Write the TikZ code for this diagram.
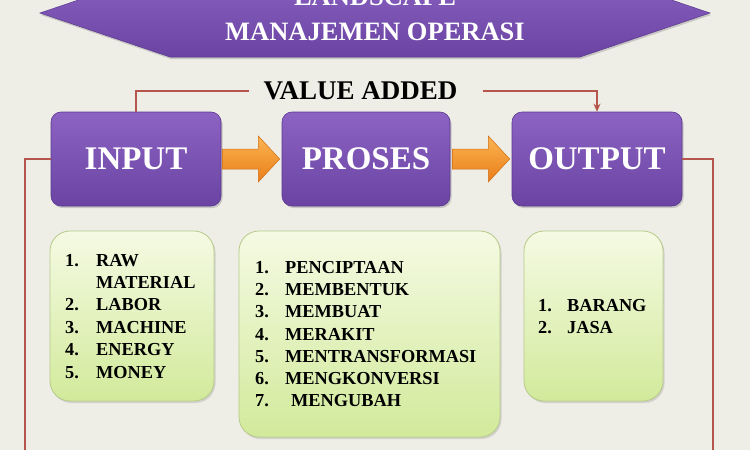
\documentclass[tikz,border=0pt]{standalone}
\usepackage{fontspec}
\setmainfont{Liberation Serif}
\usetikzlibrary{arrows.meta,shadows,calc}
\definecolor{bg}{HTML}{EEEDE6}
\definecolor{purT}{HTML}{8C63C3}
\definecolor{purB}{HTML}{6A43A3}
\definecolor{purE}{HTML}{5A3890}
\definecolor{orT}{HTML}{FBB451}
\definecolor{orB}{HTML}{E97E1A}
\definecolor{orE}{HTML}{D06E15}
\definecolor{grT}{HTML}{F5FAE3}
\definecolor{grB}{HTML}{D2EA9B}
\definecolor{grL}{HTML}{B6CA8A}
\definecolor{redl}{HTML}{B5554B}
\begin{document}
\begin{tikzpicture}[x=1pt,y=-1pt,
  pbox/.style={rounded corners=10pt, top color=purT, bottom color=purB, draw=purE,
    line width=0.6pt, minimum height=94pt, text=white,
    font=\fontsize{33}{36}\selectfont\bfseries,
    drop shadow={opacity=0.35,shadow xshift=1.5pt,shadow yshift=-2pt}},
  gbox/.style={rounded corners=20pt, top color=grT, bottom color=grB, draw=grL,
    line width=0.8pt,
    drop shadow={opacity=0.25,shadow xshift=1.5pt,shadow yshift=-2pt}},
  orarrow/.style={top color=orT, bottom color=orB, draw=orE, line width=0.5pt},
  redline/.style={draw=redl, line width=2.2pt},
  titletext/.style={text=white, font=\fontsize{26.5}{28}\selectfont\bfseries, inner sep=0pt},
  itemtext/.style={anchor=base west, inner sep=0pt, font=\fontsize{18.3}{22}\selectfont\bfseries},
]
\useasboundingbox (0,0) rectangle (750,450);
\fill[bg] (0,0) rectangle (750,450);

% banner
\path[top color=purT, bottom color=purB, draw=purE, line width=0.5pt,
  drop shadow={opacity=0.35,shadow xshift=1pt,shadow yshift=-2pt}]
  (40,13) -- (170,57) -- (580,57) -- (710,13) -- (580,-31) -- (170,-31) -- cycle;
\node[titletext, anchor=base] (t1) at (375,5) {LANDSCAPE};
\node[titletext, anchor=base] (t2) at (375,40) {MANAJEMEN OPERASI};

% main boxes
\node[pbox, minimum width=170pt] (in) at (136,159) {INPUT};
\node[pbox, minimum width=168pt] (pr) at (366,159) {PROSES};
\node[pbox, minimum width=170pt] (ou) at (597,159) {OUTPUT};

% orange arrows
\path[orarrow] ($(in.east)+(1,-10)$) -- ($(in.east)+(37,-10)$) -- ($(in.east)+(37,-23)$)
  -- ($(pr.west)+(-2,0)$) -- ($(in.east)+(37,23)$) -- ($(in.east)+(37,10)$)
  -- ($(in.east)+(1,10)$) -- cycle;
\path[orarrow] ($(pr.east)+(2,-10)$) -- ($(pr.east)+(38,-10)$) -- ($(pr.east)+(38,-23)$)
  -- ($(ou.west)+(-2,0)$) -- ($(pr.east)+(38,23)$) -- ($(pr.east)+(38,10)$)
  -- ($(pr.east)+(2,10)$) -- cycle;

% value added
\node[font=\fontsize{27}{29}\selectfont\bfseries, inner xsep=14pt, inner ysep=0pt] (va) at (360.5,91) {VALUE ADDED};
\draw[redline] (in.north) |- (va.west);
\draw[redline, -{Stealth[length=8pt,width=7pt]}] ([xshift=11pt]va.east) -| (ou.north);

% feedback lines
\coordinate (lt) at (25,159);
\coordinate (lb) at (25,456);
\coordinate (rt) at (713,159);
\coordinate (rb) at (713,456);
\draw[redline] (in.west) -- (lt) -- (lb);
\draw[redline] (ou.east) -- (rt) -- (rb);

% green boxes
\node[gbox, minimum width=164pt, minimum height=170pt] (g1) at (132,316) {};
\node[gbox, minimum width=261pt, minimum height=206pt] (g2) at (369.5,334) {};
\node[gbox, minimum width=139pt, minimum height=170pt] (g3) at (593.5,316) {};

% box 1 items
\node[itemtext] (a1) at (65,266) {\makebox[31pt][l]{1.}RAW};
\node[itemtext] (a1b) at (96,288) {MATERIAL};
\node[itemtext] (a2) at (65,310) {\makebox[31pt][l]{2.}LABOR};
\node[itemtext] (a3) at (65,333) {\makebox[31pt][l]{3.}MACHINE};
\node[itemtext] (a4) at (65,355) {\makebox[31pt][l]{4.}ENERGY};
\node[itemtext] (a5) at (65,378) {\makebox[31pt][l]{5.}MONEY};

% box 2 items
\node[itemtext] (b1) at (255,273) {\makebox[30pt][l]{1.}PENCIPTAAN};
\node[itemtext] (b2) at (255,295) {\makebox[30pt][l]{2.}MEMBENTUK};
\node[itemtext] (b3) at (255,317) {\makebox[30pt][l]{3.}MEMBUAT};
\node[itemtext] (b4) at (255,340) {\makebox[30pt][l]{4.}MERAKIT};
\node[itemtext] (b5) at (255,362) {\makebox[30pt][l]{5.}MENTRANSFORMASI};
\node[itemtext] (b6) at (255,384) {\makebox[30pt][l]{6.}MENGKONVERSI};
\node[itemtext] (b7) at (255,406) {\makebox[36pt][l]{7.}MENGUBAH};

% box 3 items
\node[itemtext] (c1) at (538,311) {\makebox[29pt][l]{1.}BARANG};
\node[itemtext] (c2) at (538,333) {\makebox[29pt][l]{2.}JASA};
\end{tikzpicture}
\end{document}
